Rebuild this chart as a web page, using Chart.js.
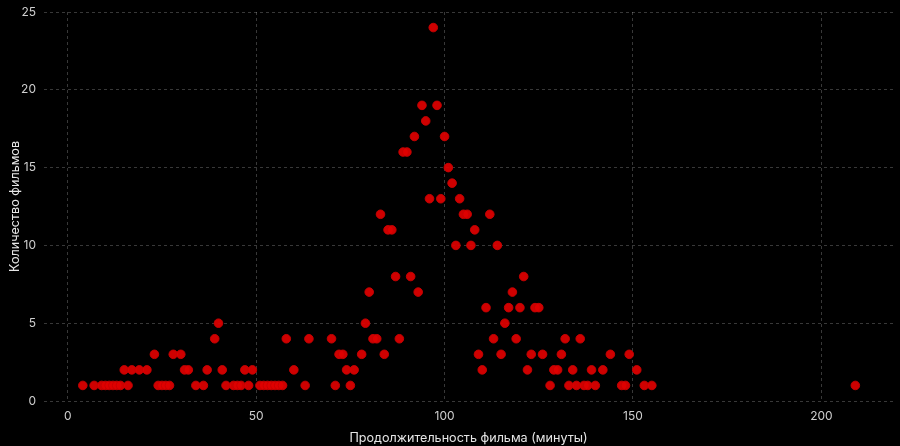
<!DOCTYPE html>
<html>
<head>
<meta charset="utf-8">
<script src="https://cdn.jsdelivr.net/npm/chart.js@4/dist/chart.umd.min.js"></script>
<style>
  html, body { margin: 0; padding: 0; background: #000; }
  .wrap { position: relative; width: 900px; height: 446px; }
</style>
</head>
<body>
<div class="wrap"><canvas id="chart"></canvas></div>
<script>
// duration of film (minutes) and number of films with that duration
const durations = [4, 7, 9, 10, 11, 12, 13, 14, 15, 16, 17, 19, 21, 23, 24, 25, 26, 27, 28, 30, 31, 32,
  34, 36, 37, 39, 40, 41, 42, 44, 45, 46, 47, 48, 49, 51, 52, 53, 54, 55, 56, 57, 58, 60, 63, 64,
  70, 71, 72, 73, 74, 75, 76, 78, 79, 80, 81, 82, 83, 84, 85, 86, 87, 88, 89, 90, 91, 92, 93, 94,
  95, 96, 97, 98, 99, 100, 101, 102, 103, 104, 105, 106, 107, 108, 109, 110, 111, 112, 113, 114,
  115, 116, 117, 118, 119, 120, 121, 122, 123, 124, 125, 126, 128, 129, 130, 131, 132, 133, 134,
  135, 136, 137, 138, 139, 140, 142, 144, 147, 148, 149, 151, 153, 155, 209];
const counts = [1, 1, 1, 1, 1, 1, 1, 1, 2, 1, 2, 2, 2, 3, 1, 1, 1, 1, 3, 3, 2, 2,
  1, 1, 2, 4, 5, 2, 1, 1, 1, 1, 2, 1, 2, 1, 1, 1, 1, 1, 1, 1, 4, 2, 1, 4,
  4, 1, 3, 3, 2, 1, 2, 3, 5, 7, 4, 4, 12, 3, 11, 11, 8, 4, 16, 16, 8, 17, 7, 19,
  18, 13, 24, 19, 13, 17, 15, 14, 10, 13, 12, 12, 10, 11, 3, 2, 6, 12, 4, 10,
  3, 5, 6, 7, 4, 6, 8, 2, 3, 6, 6, 3, 1, 2, 2, 3, 4, 1, 2,
  1, 4, 1, 1, 2, 1, 2, 3, 1, 1, 3, 2, 1, 1, 1];

const xTicks = [0, 50, 100, 150, 200];
const yTicks = [0, 5, 10, 15, 20, 25];

const xTitle = 'Продолжительность фильма (минуты)';
const yTitle = 'Количество фильмов';

const points = durations.map((d, i) => ({ x: d, y: counts[i] }));

const gridStyle = {
  color: 'rgba(255,255,255,0.22)',
  lineWidth: 1,
  drawTicks: false,
};

new Chart(document.getElementById('chart').getContext('2d'), {
  type: 'scatter',
  data: {
    datasets: [{
      data: points,
      backgroundColor: 'rgba(225,0,0,0.92)',
      borderColor: 'rgba(200,0,0,0.95)',
      borderWidth: 1,
      pointRadius: 4.3,
      pointHoverRadius: 4.3,
    }]
  },
  options: {
    responsive: true,
    maintainAspectRatio: false,
    animation: false,
    layout: { padding: { top: 12, right: 7, left: 0, bottom: 0 } },
    scales: {
      x: {
        type: 'linear',
        min: -6.3,
        max: 219,
        afterBuildTicks: axis => { axis.ticks = xTicks.map(v => ({ value: v })) },
        afterFit: axis => { axis.height = 45; axis.paddingLeft = 0; axis.paddingRight = 0 },
        grid: gridStyle,
        border: { display: false, dash: [3, 3] },
        ticks: { color: '#cfcfcf', padding: 8, font: { family: 'Inter', size: 12 } },
        title: {
          display: true,
          text: xTitle,
          color: '#e6e6e6',
          padding: { top: 3, bottom: 0 },
          font: { family: 'Inter', size: 12.6 }
        }
      },
      y: {
        min: 0,
        max: 25,
        afterBuildTicks: axis => { axis.ticks = yTicks.map(v => ({ value: v })) },
        afterFit: axis => { axis.width = 44; axis.paddingTop = 0; axis.paddingBottom = 0 },
        grid: gridStyle,
        border: { display: false, dash: [3, 3] },
        ticks: { color: '#cfcfcf', padding: 8, font: { family: 'Inter', size: 12 } },
        title: {
          display: true,
          text: yTitle,
          color: '#e6e6e6',
          padding: { top: 8, bottom: 4 },
          font: { family: 'Inter', size: 12.6 }
        }
      }
    },
    plugins: {
      legend: { display: false },
      tooltip: { enabled: false }
    }
  },
  plugins: [{
    id: 'bg',
    beforeDraw: chart => {
      const c = chart.ctx;
      c.save();
      c.fillStyle = '#000';
      c.fillRect(0, 0, chart.width, chart.height);
      c.restore();
    }
  }]
});
</script>
</body>
</html>
